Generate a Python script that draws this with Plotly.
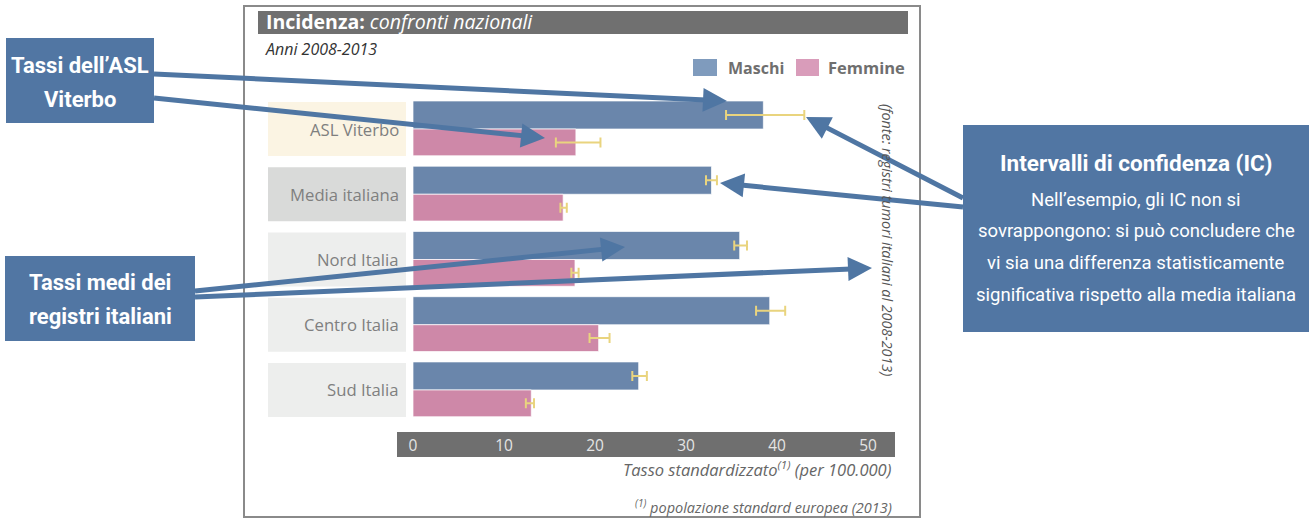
import math
import plotly.graph_objects as go

# ---------------- data ----------------
categories = ["ASL Viterbo", "Media italiana", "Nord Italia", "Centro Italia", "Sud Italia"]
maschi = [38.5, 32.8, 35.9, 39.2, 24.8]
maschi_lo = [34.4, 32.2, 35.3, 37.7, 24.1]
maschi_hi = [43.0, 33.4, 36.7, 40.9, 25.7]
femmine = [17.9, 16.5, 17.8, 20.4, 13.0]
femmine_lo = [15.7, 16.2, 17.4, 19.4, 12.4]
femmine_hi = [20.6, 16.9, 18.2, 21.6, 13.3]
tick_vals = [0, 10, 20, 30, 40, 50]
label_colors = ["#fbf4e3", "#d9dad9", "#edeeed", "#edeeed", "#edeeed"]

W, H = 1309, 519
X0PX, PXU = 413.0, 9.1  # pixel of value 0, pixels per unit


def px(x):
    return x / W


def py(y):
    return 1 - y / H


def v(xpix):
    return (xpix - X0PX) / PXU


MAIN = "Open Sans"
COND = "Roboto"
BOXC = "#5176a3"
ARROWC = "#4f76a3"

fig = go.Figure()

# category label boxes (behind bars)
lab_left, lab_right = v(268), v(406)
fig.add_trace(go.Bar(
    y=categories, x=[lab_right - lab_left] * len(categories), base=lab_left,
    orientation="h", width=0.83, offset=-0.415,
    marker=dict(color=label_colors, line=dict(width=0)),
    hoverinfo="skip", showlegend=False))

fig.add_trace(go.Bar(
    y=categories, x=maschi, orientation="h", name="Maschi",
    width=0.43, offset=-0.43,
    marker=dict(color="#6a86ab", line=dict(color="rgba(255,255,255,0.7)", width=1)),
    error_x=dict(type="data", symmetric=False,
                 array=[h - m for h, m in zip(maschi_hi, maschi)],
                 arrayminus=[m - l for m, l in zip(maschi, maschi_lo)],
                 color="#e9d47e", thickness=2, width=5),
    showlegend=False))

fig.add_trace(go.Bar(
    y=categories, x=femmine, orientation="h", name="Femmine",
    width=0.41, offset=0.0,
    marker=dict(color="#ce88a8", line=dict(color="rgba(255,255,255,0.7)", width=1)),
    error_x=dict(type="data", symmetric=False,
                 array=[h - m for h, m in zip(femmine_hi, femmine)],
                 arrayminus=[m - l for m, l in zip(femmine, femmine_lo)],
                 color="#e9d47e", thickness=2, width=5),
    showlegend=False))

shapes = []
# outer frame
shapes.append(dict(type="rect", xref="paper", yref="paper", x0=px(244), x1=px(920), y0=py(517), y1=py(6),
                   line=dict(color="#8a8a8a", width=2), fillcolor="rgba(0,0,0,0)", layer="below"))
# title bar
shapes.append(dict(type="rect", xref="paper", yref="paper", x0=px(258), x1=px(908), y0=py(34), y1=py(11),
                   line=dict(width=0), fillcolor="#707070", layer="below"))
# axis band
shapes.append(dict(type="rect", xref="paper", yref="paper", x0=px(397), x1=px(895), y0=py(457), y1=py(432),
                   line=dict(width=0), fillcolor="#6f6f6f", layer="below"))
# legend squares
shapes.append(dict(type="rect", xref="paper", yref="paper", x0=px(693), x1=px(717), y0=py(76), y1=py(59),
                   line=dict(width=0), fillcolor="#7f9bbd"))
shapes.append(dict(type="rect", xref="paper", yref="paper", x0=px(796), x1=px(819), y0=py(76), y1=py(59),
                   line=dict(width=0), fillcolor="#d99cba"))
# explanation boxes
shapes.append(dict(type="rect", xref="paper", yref="paper", x0=px(6), x1=px(154), y0=py(123), y1=py(38),
                   line=dict(width=0), fillcolor=BOXC))
shapes.append(dict(type="rect", xref="paper", yref="paper", x0=px(5), x1=px(195), y0=py(341), y1=py(256),
                   line=dict(width=0), fillcolor=BOXC))
shapes.append(dict(type="rect", xref="paper", yref="paper", x0=px(963), x1=px(1309), y0=py(332), y1=py(125),
                   line=dict(width=0), fillcolor=BOXC))

# arrows: (tail_x, tail_y, tip_x, tip_y) in pixels, drawn as line + triangular head
arrows = [(154, 74, 727, 101), (154, 98, 545, 138),
          (195, 291, 625, 247), (195, 297, 872, 268),
          (963, 198, 806, 117), (963, 207, 720, 183)]
HEAD_L, HEAD_HW = 24.0, 12.0
for tx, ty, hx, hy in arrows:
    dx, dy = hx - tx, hy - ty
    n = math.hypot(dx, dy)
    ux, uy = dx / n, dy / n
    bx, by = hx - HEAD_L * ux, hy - HEAD_L * uy
    nx, ny = -uy, ux
    lx, ly = bx + 3 * ux, by + 3 * uy
    shapes.append(dict(type="line", xref="paper", yref="paper", x0=px(tx), y0=py(ty), x1=px(lx), y1=py(ly),
                       line=dict(color=ARROWC, width=5)))
    p1 = (bx + HEAD_HW * nx, by + HEAD_HW * ny)
    p2 = (bx - HEAD_HW * nx, by - HEAD_HW * ny)
    path = (f"M {px(hx):.5f},{py(hy):.5f} L {px(p1[0]):.5f},{py(p1[1]):.5f} "
            f"L {px(p2[0]):.5f},{py(p2[1]):.5f} Z")
    shapes.append(dict(type="path", xref="paper", yref="paper", path=path,
                       line=dict(width=0), fillcolor=ARROWC))

ann = []
# title and subtitle
ann.append(dict(xref="paper", yref="paper", x=px(264), y=py(22), xanchor="left", yanchor="middle",
                text="<b>Incidenza:</b> <i>confronti nazionali</i>", showarrow=False,
                font=dict(family=MAIN, size=19.5, color="white")))
ann.append(dict(xref="paper", yref="paper", x=px(263), y=py(49), xanchor="left", yanchor="middle",
                text="<i>Anni 2008-2013</i>", showarrow=False,
                font=dict(family=MAIN, size=16, color="#333333")))
# legend text
ann.append(dict(xref="paper", yref="paper", x=px(726), y=py(68), xanchor="left", yanchor="middle",
                text="<b>Maschi</b>", showarrow=False, font=dict(family=MAIN, size=16, color="#6f6f6f")))
ann.append(dict(xref="paper", yref="paper", x=px(826), y=py(68), xanchor="left", yanchor="middle",
                text="<b>Femmine</b>", showarrow=False, font=dict(family=MAIN, size=16.5, color="#6f6f6f")))
# category labels
for c in categories:
    ann.append(dict(xref="x", yref="y", x=v(401), y=c, xanchor="right", yanchor="middle",
                    text=c, showarrow=False, font=dict(family=MAIN, size=16.7, color="#7f7f7f")))
# rotated source
ann.append(dict(xref="paper", yref="paper", x=px(888), y=py(240), xanchor="center", yanchor="middle",
                text="<i>(fonte: registri tumori italiani al 2008-2013)</i>", textangle=90, showarrow=False,
                font=dict(family=MAIN, size=14.3, color="#555555")))
# axis title and footnote
ann.append(dict(xref="paper", yref="paper", x=px(894), y=py(469), xanchor="right", yanchor="middle",
                text="<i>Tasso standardizzato<sup>(1)</sup> (per 100.000)</i>", showarrow=False,
                font=dict(family=MAIN, size=16.5, color="#666666")))
ann.append(dict(xref="paper", yref="paper", x=px(894), y=py(506), xanchor="right", yanchor="middle",
                text="<i><sup>(1)</sup> popolazione standard europea (2013)</i>", showarrow=False,
                font=dict(family=MAIN, size=14.5, color="#666666")))
# box texts (one annotation per line to match the line spacing)
box_lines = [("Tassi dell’ASL", 80, 65), ("Viterbo", 80, 100),
             ("Tassi medi dei", 100, 282), ("registri italiani", 100, 316)]
for t, cx, cy in box_lines:
    ann.append(dict(xref="paper", yref="paper", x=px(cx), y=py(cy), xanchor="center", yanchor="middle",
                    text=f"<b>{t}</b>", showarrow=False,
                    font=dict(family=COND, size=22, color="white")))
ann.append(dict(xref="paper", yref="paper", x=px(1136), y=py(163), xanchor="center", yanchor="middle",
                text="<b>Intervalli di confidenza (IC)</b>", showarrow=False,
                font=dict(family=COND, size=22.5, color="white")))
ic_lines = ["Nell’esempio, gli IC non si",
            "sovrappongono: si può concludere che",
            "vi sia una differenza statisticamente",
            "significativa rispetto alla media italiana"]
for i, t in enumerate(ic_lines):
    ann.append(dict(xref="paper", yref="paper", x=px(1136), y=py(200 + 31.5 * i), xanchor="center",
                    yanchor="middle", text=t, showarrow=False,
                    font=dict(family=COND, size=18.5, color="white")))

row_top, row_bot = 96.4, 422.6
fig.update_layout(
    width=W, height=H, margin=dict(l=0, r=0, t=0, b=0),
    paper_bgcolor="white", plot_bgcolor="white",
    barmode="overlay",
    xaxis=dict(domain=[0, 1], range=[v(0), v(W)], tickvals=tick_vals, ticks="",
               showgrid=False, zeroline=False, showline=False,
               anchor="free", position=py(434),
               tickfont=dict(family=MAIN, size=15.5, color="#e4e4e4")),
    yaxis=dict(domain=[py(row_bot), py(row_top)], type="category", categoryorder="array",
               categoryarray=categories, autorange="reversed",
               showticklabels=False, showgrid=False, zeroline=False, showline=False),
    shapes=shapes, annotations=ann,
)

fig.write_html("out.html")
